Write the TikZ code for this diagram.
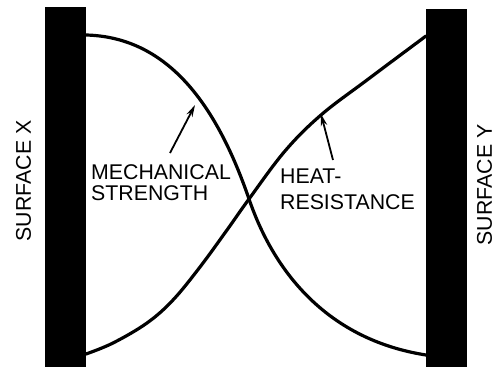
\documentclass[tikz,border=0pt]{standalone}
\usepackage{fontspec}
\setmainfont{Liberation Sans}
\usetikzlibrary{arrows.meta,positioning}
\tikzset{
  bar/.style={fill=black, draw=none},
  curve/.style={line width=3.2pt, line cap=round, line join=round},
  lbl/.style={inner sep=0pt, align=left, font=\fontsize{21.3}{21}\selectfont},
  slbl/.style={inner sep=0pt, rotate=90, font=\fontsize{21.3}{21}\selectfont},
  arr/.style={-{Stealth[length=12pt, width=6.5pt]}, line width=1.8pt},
}
\begin{document}
\begin{tikzpicture}[x=1pt, y=-1pt]
\useasboundingbox (0,0) rectangle (495,367);

% Bars
\fill[bar] (45,7) rectangle (86,367);
\fill[bar] (426,9) rectangle (467,367);

% Curves
\draw[curve] (86,35) .. controls (165,37) and (215,100) .. (249,199)
  .. controls (275,275) and (330,340) .. (426,355);
\draw[curve] plot[smooth, tension=0.6] coordinates {(86,354) (113,343) (147,323)
  (173,300) (200,267) (227,230) (249,199) (285,151) (321,115)
  (367,80) (426,36)};

% Labels
\node[slbl] (surfx) at (23.5,181) {SURFACE X};
\node[slbl] (surfy) at (484.5,185) {SURFACE Y};
\node[lbl, anchor=north west] (mech) at (91,164) {MECHANICAL\\STRENGTH};
\node[lbl, anchor=north west, font=\fontsize{21.3}{26}\selectfont] (heat) at (280,169) {HEAT-\\RESISTANCE};

% Pointers
\coordinate (mtail) at (170,153);
\coordinate (mtip) at (195,105);
\coordinate (htail) at (333,160);
\coordinate (htip) at (321,114);
\draw[arr] (mtail) -- (mtip);
\draw[arr] (htail) -- (htip);

\end{tikzpicture}
\end{document}
